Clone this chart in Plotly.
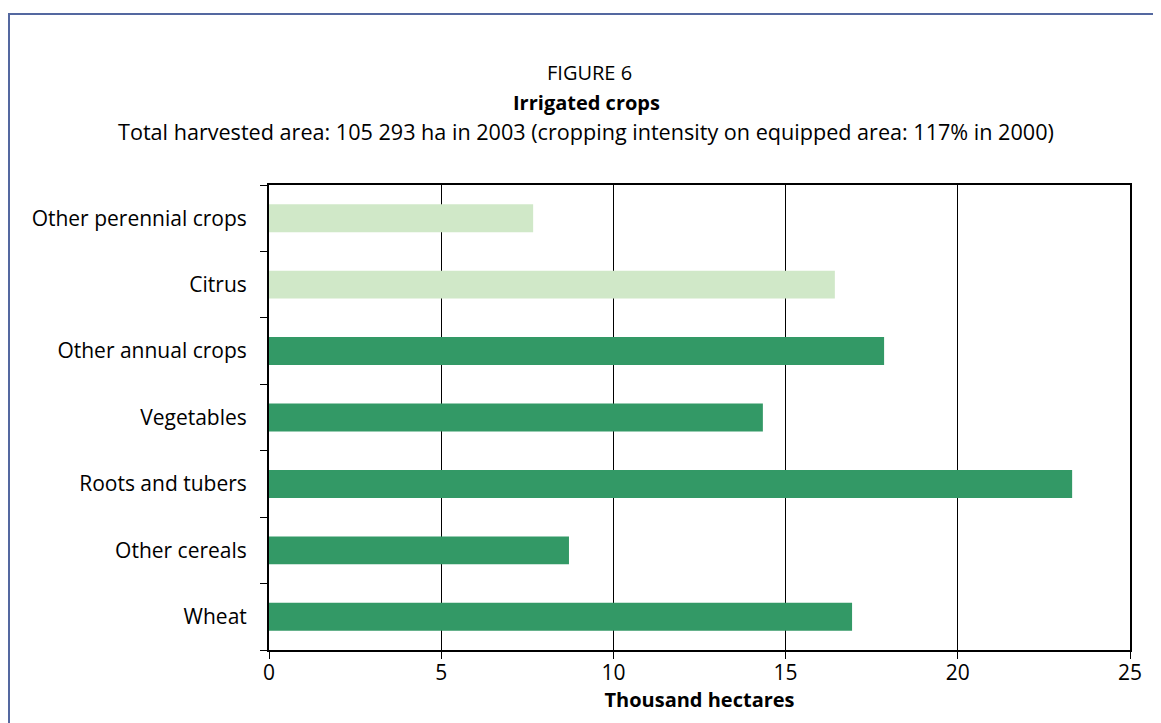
import plotly.graph_objects as go

categories = ["Wheat", "Other cereals", "Roots and tubers", "Vegetables",
              "Other annual crops", "Citrus", "Other perennial crops"]
values = [16.93, 8.71, 23.32, 14.34, 17.86, 16.43, 7.67]
kinds = ["annual", "annual", "annual", "annual", "annual", "perennial", "perennial"]
x_ticks = [0, 5, 10, 15, 20, 25]

color_map = {"annual": "#339966", "perennial": "#d0e8c8"}
colors = [color_map[k] for k in kinds]

FONT = "Open Sans"
FS = 21

fig = go.Figure(go.Bar(
    y=categories, x=values, orientation="h",
    marker=dict(color=colors, line=dict(width=0)),
    width=0.42,
))

OFF = 8  # page body margin
W, H = 1161, 723
# target plot area in screenshot pixels
PL, PR, PT, PB = 269, 1130, 185, 650
L = PL - OFF
T = PT - OFF
R = W - (PR - OFF)
B = H - (PB - OFF)
pw, ph = PR - PL, PB - PT

def px_x(x):
    return (x - PL) / pw

def px_y(y):
    return 1 - (y - PT) / ph

fig.update_layout(
    width=W, height=H,
    margin=dict(l=L, r=R, t=T, b=B),
    paper_bgcolor="white", plot_bgcolor="white",
    font=dict(family=FONT, size=FS, color="black"),
    showlegend=False,
    xaxis=dict(
        range=[0, 25], tickvals=x_ticks, ticks="outside", ticklen=7,
        tickcolor="black", showgrid=True, gridcolor="black", gridwidth=1,
        showline=True, linecolor="black", linewidth=2, mirror=True,
        zeroline=False, tickfont=dict(size=FS), ticklabelstandoff=-4,
        title=dict(text="<b>Thousand hectares</b>", font=dict(size=FS - 1), standoff=2),
        fixedrange=True,
    ),
    yaxis=dict(
        type="category", categoryorder="array", categoryarray=categories,
        tickson="boundaries", ticks="outside", ticklen=7, tickcolor="black",
        showline=True, linecolor="black", linewidth=2, mirror=True,
        showgrid=False, ticklabelstandoff=16, tickfont=dict(size=FS),
        fixedrange=True,
    ),
    annotations=[
        dict(text="FIGURE 6", x=px_x(589), y=px_y(73), xref="paper", yref="paper",
             showarrow=False, font=dict(size=FS - 1), xanchor="center", yanchor="middle"),
        dict(text="<b>Irrigated crops</b>", x=px_x(586), y=px_y(102), xref="paper", yref="paper",
             showarrow=False, font=dict(size=FS - 1), xanchor="center", yanchor="middle"),
        dict(text="Total harvested area: 105 293 ha in 2003 (cropping intensity on equipped area: 117% in 2000)",
             x=px_x(586), y=px_y(132), xref="paper", yref="paper",
             showarrow=False, font=dict(size=21.6), xanchor="center", yanchor="middle"),
    ],
    shapes=[
        dict(type="rect", xref="paper", yref="paper",
             x0=px_x(9), x1=px_x(1156), y0=px_y(760), y1=px_y(14),
             line=dict(color="#5468a0", width=2), fillcolor="rgba(0,0,0,0)", layer="below"),
    ],
)

fig.write_html("out.html")
